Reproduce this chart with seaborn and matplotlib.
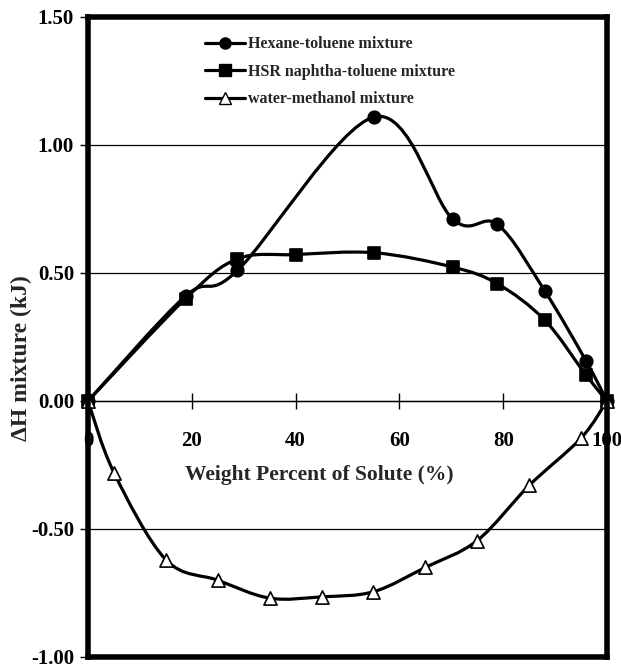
import numpy as np
import pandas as pd
import matplotlib
matplotlib.use("Agg")
import matplotlib.pyplot as plt
import seaborn as sns
from matplotlib.path import Path
from matplotlib.patches import PathPatch
from matplotlib.lines import Line2D

# values
hexane_x = [0, 18.8, 28.8, 55.2, 70.3, 78.9, 88.0, 96.0, 100]
hexane_y = [0, 0.41, 0.51, 1.11, 0.71, 0.69, 0.43, 0.155, 0]

hsr_x = [0, 18.8, 28.8, 40.0, 55.2, 70.3, 78.9, 88.0, 96.0, 100]
hsr_y = [0, 0.40, 0.555, 0.572, 0.579, 0.523, 0.458, 0.316, 0.10, 0]

water_x = [0, 5, 15, 25, 35, 45, 55, 65, 75, 85, 95, 100]
water_y = [0, -0.28, -0.62, -0.70, -0.77, -0.765, -0.745, -0.65, -0.545, -0.33, -0.145, 0]

series_names = ["Hexane-toluene mixture", "HSR naphtha-toluene mixture", "water-methanol mixture"]
x_ticks = [0, 20, 40, 60, 80, 100]
y_ticks = [-1.0, -0.5, 0.0, 0.5, 1.0, 1.5]


def smooth_path(xs, ys):
    """Excel-like smoothed line: Catmull-Rom segments as cubic Beziers."""
    pts = np.column_stack([xs, ys]).astype(float)
    n = len(pts)
    verts = [pts[0]]
    codes = [Path.MOVETO]
    for i in range(n - 1):
        p0 = pts[max(i - 1, 0)]
        p1 = pts[i]
        p2 = pts[i + 1]
        p3 = pts[min(i + 2, n - 1)]
        verts += [p1 + (p2 - p0) / 6, p2 - (p3 - p1) / 6, p2]
        codes += [Path.CURVE4] * 3
    return Path(verts, codes)


df = pd.concat([
    pd.DataFrame({"x": hexane_x, "y": hexane_y, "series": series_names[0]}),
    pd.DataFrame({"x": hsr_x, "y": hsr_y, "series": series_names[1]}),
    pd.DataFrame({"x": water_x, "y": water_y, "series": series_names[2]}),
])

sns.set_style("white")
plt.rcParams["font.family"] = ["Liberation Serif", "DejaVu Serif"]
plt.rcParams["font.weight"] = "bold"

fig = plt.figure(figsize=(6.21, 6.68), dpi=100)
ax = fig.add_axes([88 / 621, 1 - 657 / 668, 519 / 621, 640 / 668])

styles = {
    series_names[0]: dict(marker="o", facecolor="black", size=9),
    series_names[1]: dict(marker="s", facecolor="black", size=9),
    series_names[2]: dict(marker="^", facecolor="white", size=9.5),
}

for name in series_names:
    sub = df[df["series"] == name]
    patch = PathPatch(smooth_path(sub["x"], sub["y"]), facecolor="none",
                      edgecolor="black", lw=2.3, zorder=3, clip_on=False)
    ax.add_patch(patch)

for name in series_names:
    sub = df[df["series"] == name]
    st = styles[name]
    sns.scatterplot(data=sub, x="x", y="y", ax=ax, marker=st["marker"],
                    color=st["facecolor"], edgecolor="black", linewidth=1.2,
                    s=st["size"] ** 2, zorder=4, clip_on=False, legend=False)

ax.set_xlim(0, 100)
ax.set_ylim(-1.0, 1.5)
ax.set_yticks(y_ticks)
ax.set_yticklabels([f"{v:.2f}" for v in y_ticks])
ax.set_xticks([])
ax.tick_params(axis="y", direction="out", length=6, width=1, pad=4,
               labelsize=15, left=True, colors="black")
for lab in ax.get_yticklabels():
    lab.set_fontweight("bold")
ax.yaxis.grid(True, color="black", lw=0.9)
ax.set_axisbelow(True)
for sp in ax.spines.values():
    sp.set_linewidth(4)
    sp.set_color("black")
    sp.set_zorder(5)

# x axis drawn along y = 0
zero_pos = (0 - (-1.0)) / 2.5
sec = ax.secondary_xaxis(zero_pos)
sec.set_xticks(x_ticks)
sec.set_xticklabels([str(v) for v in x_ticks])
sec.spines["bottom"].set_linewidth(1.0)
sec.tick_params(axis="x", direction="inout", length=11.5, width=1,
                pad=16, labelsize=15, colors="black")
for lab in sec.get_xticklabels():
    lab.set_fontweight("bold")

ax.set_xlabel("Weight Percent of Solute (%)", fontsize=15.5, fontweight="bold")
ax.xaxis.set_label_coords(0.445, 0.30)
ax.set_ylabel("\u0394H mixture (kJ)", fontsize=17, fontweight="bold")
ax.yaxis.set_label_coords(-0.108, 0.467)

handles = [
    Line2D([], [], color="black", lw=2.3, marker="o", markersize=8,
           markerfacecolor="black", markeredgecolor="black"),
    Line2D([], [], color="black", lw=2.3, marker="s", markersize=8,
           markerfacecolor="black", markeredgecolor="black"),
    Line2D([], [], color="black", lw=2.3, marker="^", markersize=8.5,
           markerfacecolor="white", markeredgecolor="black"),
]
leg = ax.legend(handles, series_names, loc="upper left",
                bbox_to_anchor=(0.225, 0.97), frameon=False,
                prop={"size": 11.5, "weight": "bold"}, handlelength=2.5,
                handletextpad=0.2, labelspacing=0.72, borderpad=0,
                borderaxespad=0)

fig.savefig("out.png", dpi=100)
